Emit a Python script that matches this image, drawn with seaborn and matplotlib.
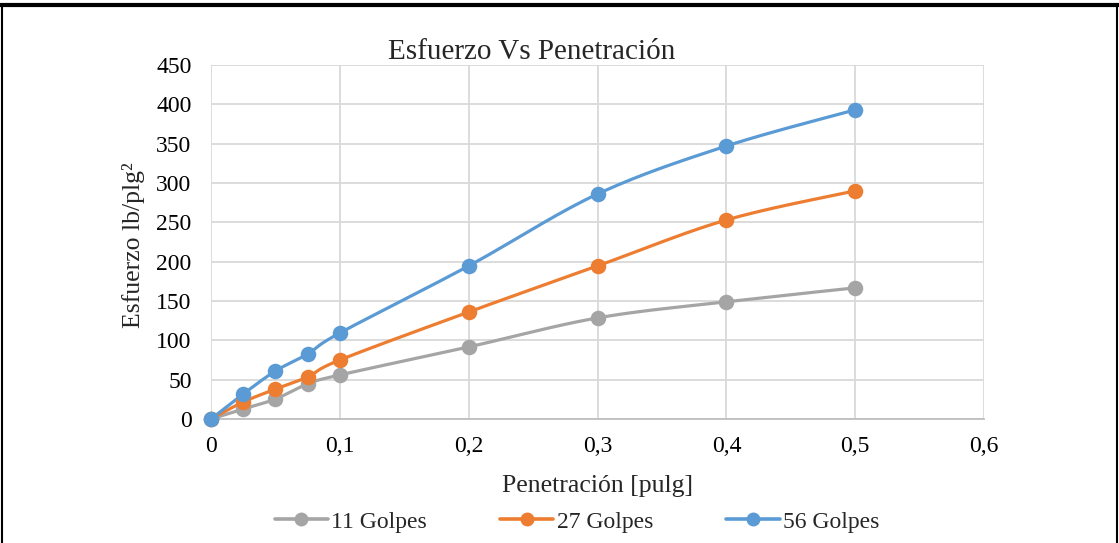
import numpy as np
import pandas as pd
import matplotlib
matplotlib.use("Agg")
import matplotlib.pyplot as plt
import seaborn as sns
from matplotlib.lines import Line2D

penetracion = [0, 0.025, 0.05, 0.075, 0.1, 0.2, 0.3, 0.4, 0.5]
golpes_11 = [0, 12.7, 25.4, 44.5, 56, 91.6, 128.5, 149, 166.7]
golpes_27 = [0, 21.6, 38, 53.4, 75, 136, 194.6, 253, 290]
golpes_56 = [0, 31.8, 61, 82.7, 109.4, 194.6, 286, 347, 393]
series_names = ["11 Golpes", "27 Golpes", "56 Golpes"]
colors = ["#A5A5A5", "#ED7D31", "#5B9BD5"]
x_ticks = [0, 0.1, 0.2, 0.3, 0.4, 0.5, 0.6]
x_tick_labels = ["0", "0,1", "0,2", "0,3", "0,4", "0,5", "0,6"]
y_ticks = list(range(0, 451, 50))

sns.set_theme(style="white")
plt.rcParams['font.family'] = ['Liberation Serif', 'DejaVu Serif']

df = pd.DataFrame({
    "Penetración": penetracion * 3,
    "Esfuerzo": golpes_11 + golpes_27 + golpes_56,
    "Serie": [series_names[0]] * 9 + [series_names[1]] * 9 + [series_names[2]] * 9,
})

fig = plt.figure(figsize=(11.19, 5.43), dpi=100)
ax = fig.add_axes([0.1886, 0.2284, 0.8794 - 0.1886, 0.8803 - 0.2284])


def smooth(xs, ys, n=20):
    # Excel-like Catmull-Rom smoothing of the drawn line between data points
    xs = np.asarray(xs, float); ys = np.asarray(ys, float)
    px = np.concatenate([[xs[0]], xs, [xs[-1]]])
    py = np.concatenate([[ys[0]], ys, [ys[-1]]])
    ox, oy = [], []
    for i in range(1, len(px) - 2):
        p0, p1, p2, p3 = (np.array([px[j], py[j]]) for j in (i - 1, i, i + 1, i + 2))
        c1 = p1 + (p2 - p0) / 6
        c2 = p2 - (p3 - p1) / 6
        t = np.linspace(0, 1, n)[:, None]
        b = ((1 - t) ** 3) * p1 + 3 * ((1 - t) ** 2) * t * c1 + 3 * (1 - t) * t ** 2 * c2 + t ** 3 * p2
        ox.extend(b[:, 0]); oy.extend(b[:, 1])
    return ox, oy


for name, col in zip(series_names, colors):
    sub = df[df["Serie"] == name]
    sx, sy = smooth(sub["Penetración"].values, sub["Esfuerzo"].values)
    sns.lineplot(x=sx, y=sy, ax=ax, color=col, linewidth=2.3, sort=False, zorder=3)
    sns.scatterplot(data=sub, x="Penetración", y="Esfuerzo", ax=ax, color=col, s=125,
                    edgecolor=col, linewidth=0, zorder=4, legend=False, clip_on=False)

ax.set_xlim(0, 0.6)
ax.set_ylim(0, 450)
ax.set_xticks(x_ticks)
ax.set_xticklabels(x_tick_labels)
ax.set_yticks(y_ticks)
ax.grid(True, color="#D9D9D9", linewidth=1.3)
ax.set_axisbelow(True)
for s in ["top", "right", "left"]:
    ax.spines[s].set_visible(False)
ax.spines["bottom"].set_color("#BFBFBF")
ax.spines["bottom"].set_linewidth(1.3)
ax.tick_params(axis="both", labelsize=17, length=0, colors="black")
ax.tick_params(axis="x", pad=12)
ax.tick_params(axis="y", pad=14)
ax.set_xlabel("Penetración [pulg]", fontsize=18.5, labelpad=13)
ax.set_ylabel("Esfuerzo lb/plg²", fontsize=18.5)
ax.yaxis.set_label_coords(-0.086, 0.49)
ax.set_title("Esfuerzo Vs Penetración", fontsize=21, pad=4, x=0.415)

handles = [Line2D([0], [0], color=c, lw=2.6, marker="o", markersize=9) for c in colors]
fig.legend(handles, series_names, loc="center", bbox_to_anchor=(0.5157, 0.039), ncol=3,
           frameon=False, fontsize=17, handlelength=2.25, handletextpad=0.15,
           columnspacing=3.1)

# outer frame lines
fig.add_artist(Line2D([0, 1], [0.991, 0.991], transform=fig.transFigure, color="black", lw=3))
fig.add_artist(Line2D([0.0015, 0.0015], [0, 0.991], transform=fig.transFigure, color="black", lw=1.5))
fig.add_artist(Line2D([0.9985, 0.9985], [0, 0.991], transform=fig.transFigure, color="black", lw=1.5))

fig.savefig("out.png", dpi=100)
